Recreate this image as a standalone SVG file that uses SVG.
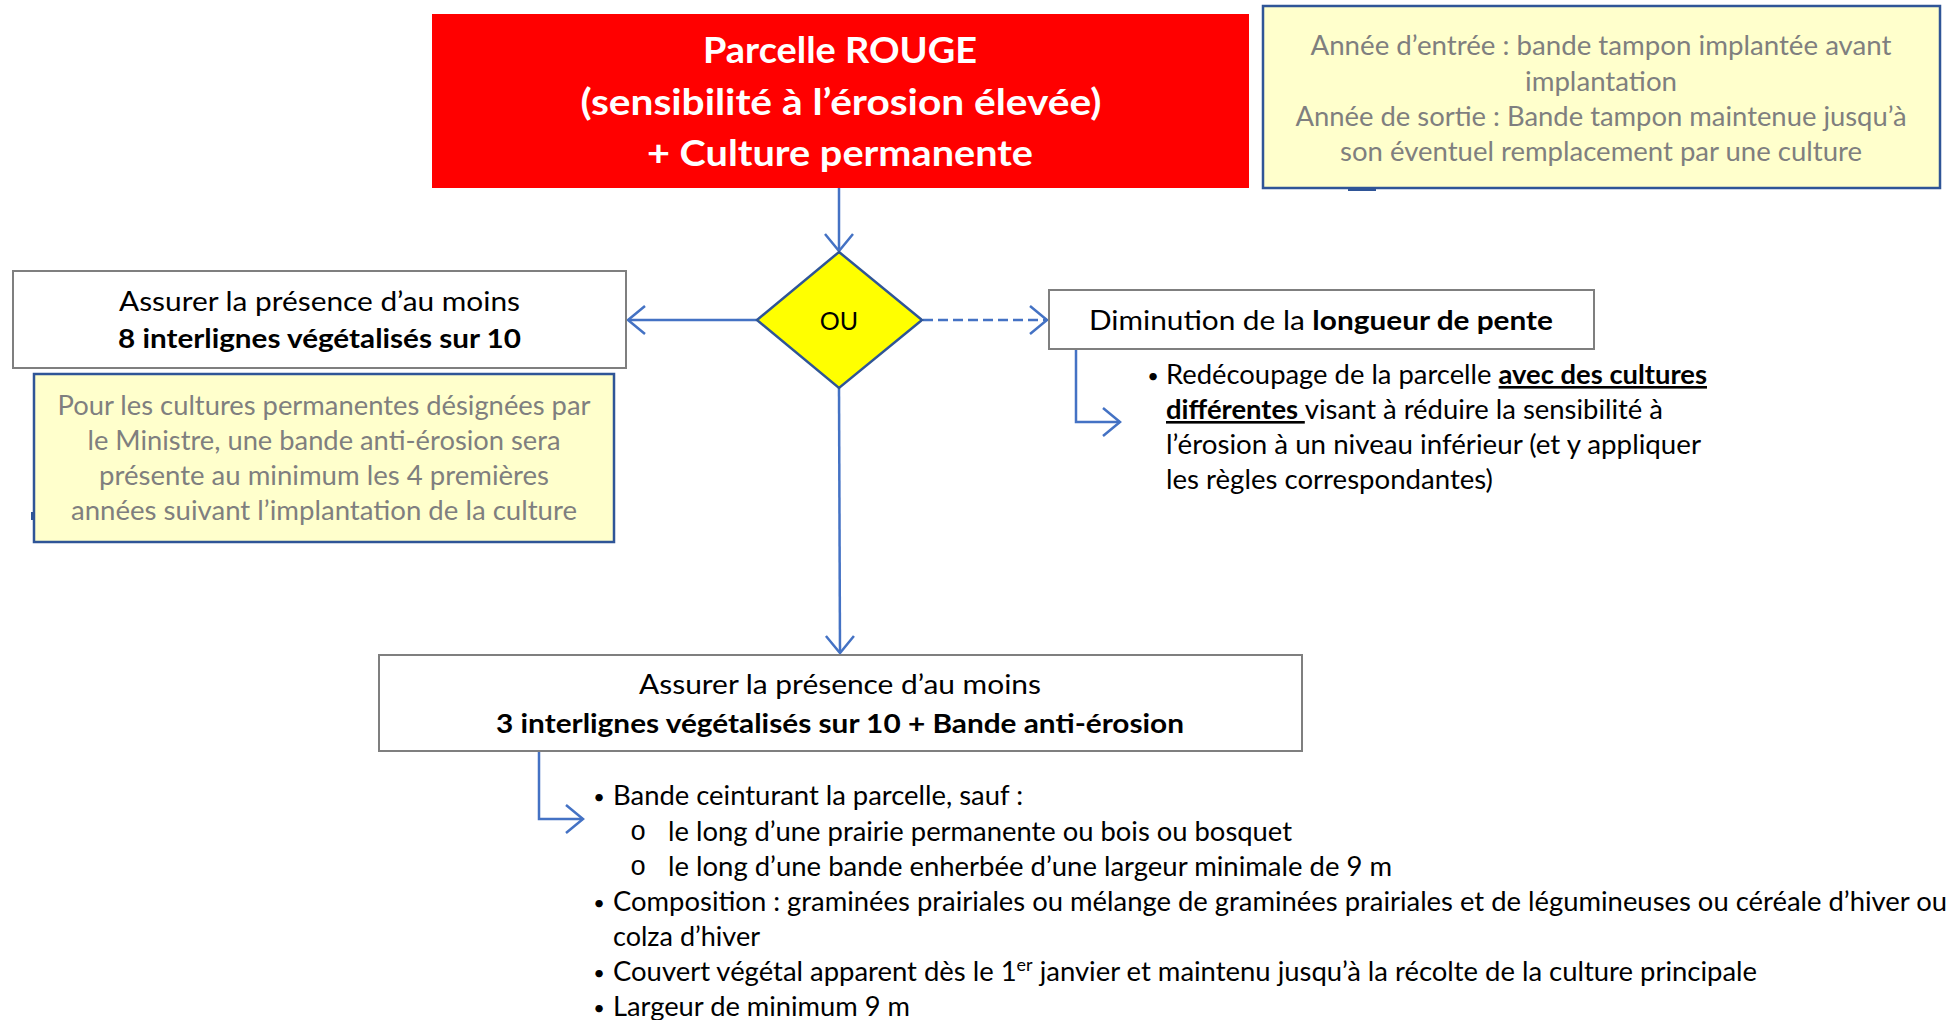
<svg xmlns="http://www.w3.org/2000/svg" width="1954" height="1020" viewBox="0 0 1954 1020">
<defs>
<style>
.t{font-family:Lato,"Open Sans","Liberation Sans",sans-serif;font-size:26px;fill:#000}
.b{font-weight:bold}
.g{fill:#7F7F7F}
.w{fill:#FFFFFF;font-weight:bold;font-size:36px}
.bul{font-family:Lato,"Open Sans","Liberation Sans",sans-serif;font-size:20px;fill:#000}
.box{fill:#FFFFFF;stroke:#7F7F7F;stroke-width:2}
.note{fill:#FFFFCC;stroke:#2F5597;stroke-width:2.5}
.con{fill:none;stroke:#4472C4;stroke-width:2.5}
.dash{stroke-dasharray:10 5}
.mono{font-family:"Liberation Mono","DejaVu Sans Mono",monospace;font-size:27px;fill:#000}
</style>
<marker id="arr" markerUnits="userSpaceOnUse" markerWidth="40" markerHeight="40" viewBox="-20 -20 40 40" refX="0" refY="0" orient="auto" overflow="visible">
<path d="M-17,-14 L0,0 L-17,14" fill="none" stroke="#4472C4" stroke-width="2.5"/>
</marker>
</defs>
<rect x="0" y="0" width="1954" height="1020" fill="#FFFFFF"/>

<g id="connectors">
<path class="con" d="M839,188 L839,251" marker-end="url(#arr)"/>
<path class="con" d="M757,320 L628,320" marker-end="url(#arr)"/>
<path class="con dash" d="M923,320 L1047,320" marker-end="url(#arr)"/>
<path class="con" d="M839,388 L840,653" marker-end="url(#arr)"/>
<path class="con" d="M1076,350 L1076,422 L1120,422" marker-end="url(#arr)"/>
<path class="con" d="M539,752 L539,819 L583,819" marker-end="url(#arr)"/>
</g>

<g id="node-red">
<rect x="432" y="14" width="817" height="174" fill="#FF0000"/>
<text class="t w" x="840" y="63" text-anchor="middle" textLength="274" lengthAdjust="spacingAndGlyphs">Parcelle ROUGE</text>
<text class="t w" x="841" y="115" text-anchor="middle" textLength="521" lengthAdjust="spacingAndGlyphs">(sensibilité à l’érosion élevée)</text>
<text class="t w" x="840" y="166" text-anchor="middle" textLength="386" lengthAdjust="spacingAndGlyphs">+ Culture permanente</text>
</g>

<g id="node-note-top">
<rect class="note" x="1263" y="6" width="677" height="182"/>
<rect x="1348" y="188" width="28" height="3" fill="#2F5597"/>
<text class="t g" x="1601" y="55" text-anchor="middle" textLength="581" lengthAdjust="spacingAndGlyphs">Année d’entrée : bande tampon implantée avant</text>
<text class="t g" x="1601" y="91" text-anchor="middle" textLength="152" lengthAdjust="spacingAndGlyphs">implantation</text>
<text class="t g" x="1601" y="126" text-anchor="middle" textLength="611" lengthAdjust="spacingAndGlyphs">Année de sortie : Bande tampon maintenue jusqu’à</text>
<text class="t g" x="1601" y="161" text-anchor="middle" textLength="522" lengthAdjust="spacingAndGlyphs">son éventuel remplacement par une culture</text>
</g>

<g id="node-ou">
<polygon points="839,252 922,320 839,388 757,320" fill="#FFFF00" stroke="#2F5597" stroke-width="2.5"/>
<text class="t" x="839" y="330" text-anchor="middle" style="font-size:25px">OU</text>
</g>

<g id="node-left">
<rect class="box" x="13" y="271" width="613" height="97"/>
<text class="t" x="319.5" y="311" text-anchor="middle" textLength="401" lengthAdjust="spacingAndGlyphs">Assurer la présence d’au moins</text>
<text class="t b" x="319.5" y="348" text-anchor="middle" textLength="403" lengthAdjust="spacingAndGlyphs">8 interlignes végétalisés sur 10</text>
</g>

<g id="node-note-left">
<rect class="note" x="34" y="374" width="580" height="168"/>
<rect x="31" y="512" width="3" height="8" fill="#2F5597"/>
<text class="t g" x="324" y="415" text-anchor="middle" textLength="533" lengthAdjust="spacingAndGlyphs">Pour les cultures permanentes désignées par</text>
<text class="t g" x="324" y="450" text-anchor="middle" textLength="473" lengthAdjust="spacingAndGlyphs">le Ministre, une bande anti-érosion sera</text>
<text class="t g" x="324" y="485" text-anchor="middle" textLength="450" lengthAdjust="spacingAndGlyphs">présente au minimum les 4 premières</text>
<text class="t g" x="324" y="520" text-anchor="middle" textLength="506" lengthAdjust="spacingAndGlyphs">années suivant l’implantation de la culture</text>
</g>

<g id="node-right">
<rect class="box" x="1049" y="290" width="545" height="59"/>
<text class="t" x="1089" y="330" textLength="464" lengthAdjust="spacingAndGlyphs">Diminution de la <tspan class="b">longueur de pente</tspan></text>
</g>

<g id="node-right-list">
<text class="bul" x="1153" y="383" text-anchor="middle">•</text>
<text class="t" x="1166" y="384" textLength="541" lengthAdjust="spacingAndGlyphs">Redécoupage de la parcelle <tspan class="b" text-decoration="underline">avec des cultures</tspan></text>
<text class="t" x="1166" y="419" textLength="497" lengthAdjust="spacingAndGlyphs"><tspan class="b" text-decoration="underline">différentes </tspan>visant à réduire la sensibilité à</text>
<text class="t" x="1166" y="454" textLength="535" lengthAdjust="spacingAndGlyphs">l’érosion à un niveau inférieur (et y appliquer</text>
<text class="t" x="1166" y="489" textLength="327" lengthAdjust="spacingAndGlyphs">les règles correspondantes)</text>
</g>

<g id="node-bottom">
<rect class="box" x="379" y="655" width="923" height="96"/>
<text class="t" x="840" y="694" text-anchor="middle" textLength="402" lengthAdjust="spacingAndGlyphs">Assurer la présence d’au moins</text>
<text class="t b" x="840" y="733" text-anchor="middle" textLength="688" lengthAdjust="spacingAndGlyphs">3 interlignes végétalisés sur 10 + Bande anti-érosion</text>
</g>

<g id="node-bottom-list">
<text class="bul" x="599" y="804" text-anchor="middle">•</text>
<text class="t" x="613" y="805" textLength="410" lengthAdjust="spacingAndGlyphs">Bande ceinturant la parcelle, sauf :</text>
<text class="mono" x="638" y="840" text-anchor="middle">o</text>
<text class="t" x="668" y="841" textLength="624" lengthAdjust="spacingAndGlyphs">le long d’une prairie permanente ou bois ou bosquet</text>
<text class="mono" x="638" y="875" text-anchor="middle">o</text>
<text class="t" x="668" y="876" textLength="724" lengthAdjust="spacingAndGlyphs">le long d’une bande enherbée d’une largeur minimale de 9 m</text>
<text class="bul" x="599" y="910" text-anchor="middle">•</text>
<text class="t" x="613" y="911" textLength="1334" lengthAdjust="spacingAndGlyphs">Composition : graminées prairiales ou mélange de graminées prairiales et de légumineuses ou céréale d’hiver ou</text>
<text class="t" x="613" y="946" textLength="147" lengthAdjust="spacingAndGlyphs">colza d’hiver</text>
<text class="bul" x="599" y="980" text-anchor="middle">•</text>
<text class="t" x="613" y="981" textLength="1144" lengthAdjust="spacingAndGlyphs">Couvert végétal apparent dès le 1<tspan style="font-size:17px" dy="-10">er</tspan><tspan dy="10"> janvier et maintenu jusqu’à la récolte de la culture principale</tspan></text>
<text class="bul" x="599" y="1015" text-anchor="middle">•</text>
<text class="t" x="613" y="1016" textLength="297" lengthAdjust="spacingAndGlyphs">Largeur de minimum 9 m</text>
</g>
</svg>
